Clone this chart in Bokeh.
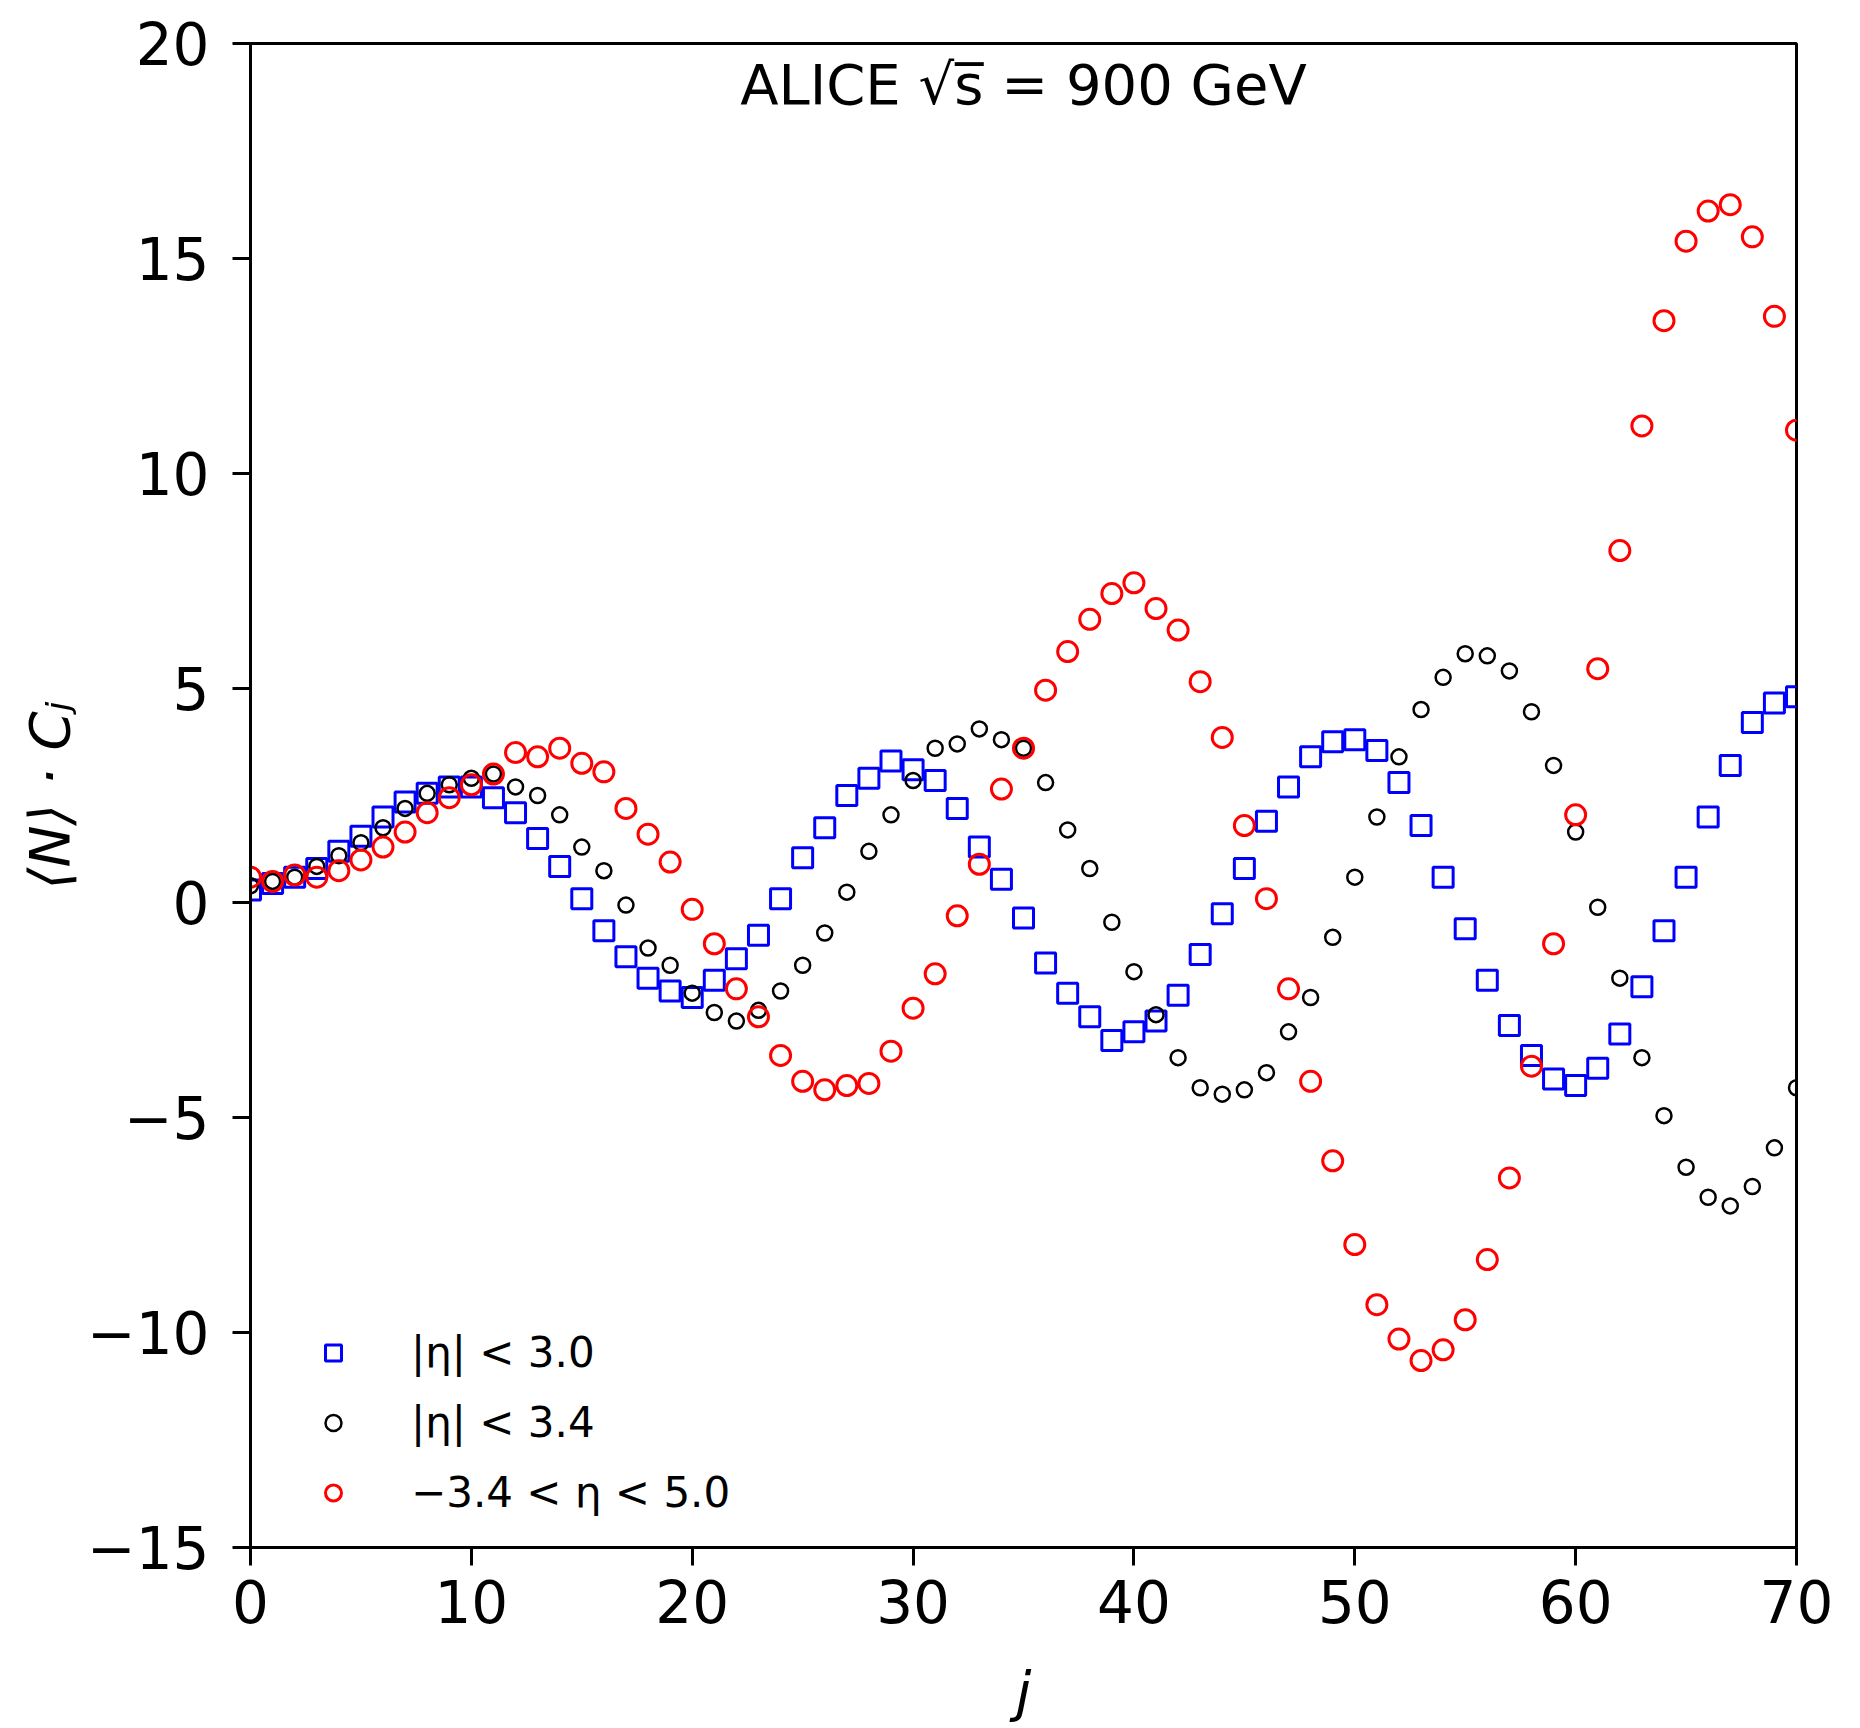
from bokeh.plotting import figure
from bokeh.models import Range1d, Label, Legend, LegendItem, FixedTicker
from bokeh.embed import file_html
from bokeh.resources import INLINE

j = list(range(71))

# |eta| < 3.0
c_eta30 = [0.3, 0.45, 0.6, 0.8, 1.2, 1.55, 2.0, 2.35, 2.55, 2.7,
           2.7, 2.45, 2.1, 1.5, 0.85, 0.1, -0.65, -1.25, -1.75, -2.05,
           -2.2, -1.8, -1.3, -0.75, 0.1, 1.05, 1.75, 2.5, 2.9, 3.3,
           3.1, 2.85, 2.2, 1.3, 0.55, -0.35, -1.4, -2.1, -2.65, -3.2,
           -3.0, -2.75, -2.15, -1.2, -0.25, 0.8, 1.9, 2.7, 3.4, 3.75,
           3.8, 3.55, 2.8, 1.8, 0.6, -0.6, -1.8, -2.85, -3.55, -4.1,
           -4.25, -3.85, -3.05, -1.95, -0.65, 0.6, 2.0, 3.2, 4.2, 4.65,
           4.8]

# |eta| < 3.4
c_eta34 = [0.4, 0.5, 0.6, 0.85, 1.1, 1.4, 1.75, 2.2, 2.55, 2.75,
           2.9, 3.0, 2.7, 2.5, 2.05, 1.3, 0.75, -0.05, -1.05, -1.45,
           -2.1, -2.55, -2.75, -2.5, -2.05, -1.45, -0.7, 0.25, 1.2, 2.05,
           2.85, 3.6, 3.7, 4.05, 3.8, 3.6, 2.8, 1.7, 0.8, -0.45,
           -1.6, -2.6, -3.6, -4.3, -4.45, -4.35, -3.95, -3.0, -2.2, -0.8,
           0.6, 2.0, 3.4, 4.5, 5.25, 5.8, 5.75, 5.4, 4.45, 3.2,
           1.65, -0.1, -1.75, -3.6, -4.95, -6.15, -6.85, -7.05, -6.6, -5.7,
           -4.3]

# -3.4 < eta < 5.0
c_eta_asym = [0.6, 0.5, 0.65, 0.6, 0.75, 1.0, 1.3, 1.65, 2.1, 2.45,
              2.75, 3.0, 3.5, 3.4, 3.6, 3.25, 3.05, 2.2, 1.6, 0.95,
              -0.15, -0.95, -2.0, -2.65, -3.55, -4.15, -4.35, -4.25, -4.2, -3.45,
              -2.45, -1.65, -0.3, 0.9, 2.65, 3.6, 4.95, 5.85, 6.6, 7.2,
              7.45, 6.85, 6.35, 5.15, 3.85, 1.8, 0.1, -2.0, -4.15, -6.0,
              -7.95, -9.35, -10.15, -10.65, -10.4, -9.7, -8.3, -6.4, -3.8, -0.95,
              2.05, 5.45, 8.2, 11.1, 13.55, 15.4, 16.1, 16.25, 15.5, 13.65,
              11.0]

labels = ["|η| < 3.0", "|η| < 3.4", "−3.4 < η < 5.0"]
x_ticks = [0, 10, 20, 30, 40, 50, 60, 70]
y_ticks = [-15, -10, -5, 0, 5, 10, 15, 20]

FONT = "DejaVu Sans"

p = figure(width=1858, height=1726, output_backend="svg", toolbar_location=None,
           x_range=Range1d(0, 70), y_range=Range1d(-15, 20),
           min_border_left=250, min_border_right=62, min_border_top=43,
           min_border_bottom=176)
p.background_fill_color = "white"
p.border_fill_color = "white"
p.outline_line_color = "black"
p.outline_line_width = 3
p.xgrid.visible = False
p.ygrid.visible = False

for ax in (p.xaxis[0], p.yaxis[0]):
    ax.major_label_text_font = FONT
    ax.major_label_text_font_size = "58px"
    ax.major_label_text_color = "black"
    ax.axis_label_text_font = FONT
    ax.axis_label_text_font_size = "56px"
    ax.axis_label_text_font_style = "italic"
    ax.axis_label_text_color = "black"
    ax.axis_line_color = "black"
    ax.axis_line_width = 3
    ax.major_tick_line_width = 3
    ax.major_tick_line_color = "black"
    ax.major_tick_out = 18
    ax.major_tick_in = 0
    ax.minor_tick_line_color = None

p.xaxis[0].ticker = FixedTicker(ticks=x_ticks)
p.yaxis[0].ticker = FixedTicker(ticks=y_ticks)
p.xaxis[0].axis_label = "j"
p.yaxis[0].axis_label = "⟨N⟩ · Cⱼ"
p.xaxis[0].major_label_standoff = 14
p.yaxis[0].major_label_standoff = 23
p.xaxis[0].axis_label_standoff = 33
p.yaxis[0].axis_label_standoff = 2

r1 = p.scatter(j, c_eta30, marker="square", size=20, fill_color=None,
               line_color="#0000ff", line_width=3)
r2 = p.scatter(j, c_eta34, marker="circle", size=15, fill_color=None,
               line_color="black", line_width=2.5)
r3 = p.scatter(j, c_eta_asym, marker="circle", size=20, fill_color=None,
               line_color="#ff0000", line_width=3)

legend = Legend(items=[LegendItem(label=labels[0], renderers=[r1]),
                       LegendItem(label=labels[1], renderers=[r2]),
                       LegendItem(label=labels[2], renderers=[r3])],
                location=(63, 29), orientation="vertical")
legend.border_line_color = None
legend.background_fill_alpha = 0
legend.padding = 0
legend.margin = 0
legend.spacing = 19
legend.glyph_width = 40
legend.glyph_height = 51
legend.label_height = 51
legend.label_standoff = 58
legend.label_text_font = FONT
legend.label_text_font_size = "42px"
legend.label_text_color = "black"
p.add_layout(legend)

title = Label(x=35, y=19.05, text="ALICE √s\u0305 = 900 GeV", text_align="center",
              text_baseline="middle", text_font=FONT, text_font_size="56px",
              text_color="black")
p.add_layout(title)

open("out.html", "w").write(file_html(p, INLINE))
